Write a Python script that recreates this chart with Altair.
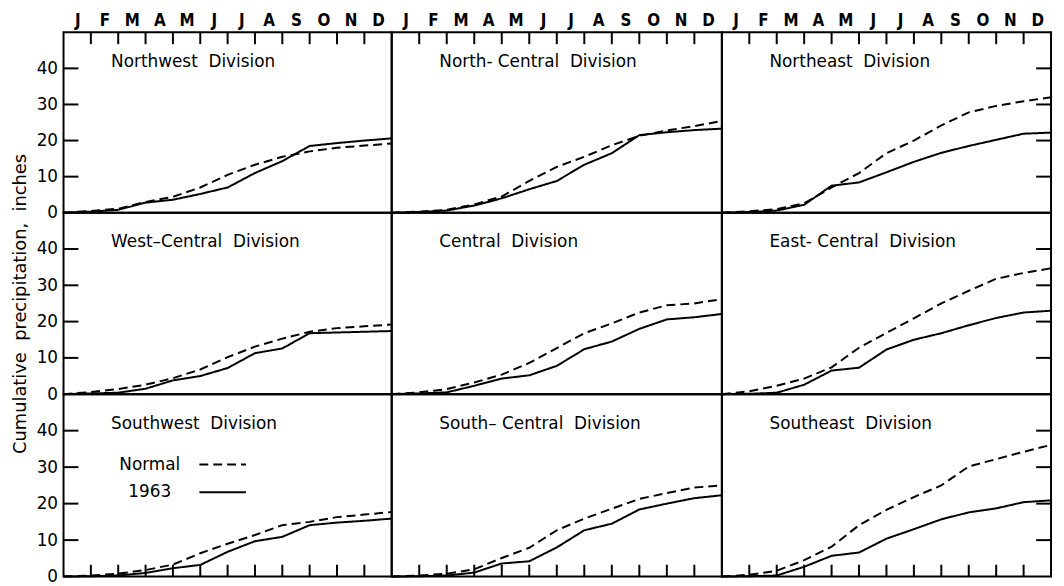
import json
import altair as alt
import pandas as pd

# ---------------- data ----------------
MONTH_LABELS = ["J", "F", "M", "A", "M", "J", "J", "A", "S", "O", "N", "D"]
MONTH_ENDS = list(range(13))          # 0 = 1 Jan ... 12 = 31 Dec
TICK_MONTHS = list(range(1, 12))
Y_LABELS = [0, 10, 20, 30, 40]
Y_TICKS = [10, 20, 30, 40]
SERIES = ["Normal", "1963"]
NB = "\u00a0"
Y_TITLE = f"Cumulative{NB}{NB}precipitation,{NB}{NB}inches"

DIVISIONS = [
    f"Northwest{NB}{NB}Division", f"North-{NB}Central{NB}{NB}Division", f"Northeast{NB}{NB}Division",
    f"West\u2013Central{NB}{NB}Division", f"Central{NB}{NB}Division", f"East-{NB}Central{NB}{NB}Division",
    f"Southwest{NB}{NB}Division", f"South\u2013{NB}Central{NB}{NB}Division", f"Southeast{NB}{NB}Division",
]

NW_NORMAL = [0, 0.5, 1.1, 3.0, 4.4, 7.0, 10.5, 13.3, 15.5, 17.0, 18.0, 18.6, 19.2]
NW_1963 = [0, 0.3, 0.8, 2.8, 3.6, 5.2, 7.0, 11.0, 14.3, 18.5, 19.3, 20.0, 20.6]
NC_NORMAL = [0, 0.3, 0.8, 2.3, 4.5, 8.8, 12.7, 15.5, 18.7, 21.3, 22.8, 24.0, 25.4]
NC_1963 = [0, 0.2, 0.6, 2.0, 4.0, 6.5, 8.8, 13.3, 16.5, 21.5, 22.3, 22.9, 23.3]
NE_NORMAL = [0, 0.4, 1.0, 2.6, 7.0, 11.0, 16.5, 20.0, 24.2, 27.8, 29.6, 30.9, 32.0]
NE_1963 = [0, 0.2, 0.6, 2.2, 7.5, 8.4, 11.2, 14.1, 16.6, 18.5, 20.2, 21.9, 22.2]
WC_NORMAL = [0, 0.6, 1.4, 2.6, 4.4, 6.8, 10.2, 13.1, 15.3, 17.2, 18.2, 18.7, 19.2]
WC_1963 = [0, 0.2, 0.4, 1.5, 3.8, 5.0, 7.2, 11.3, 12.6, 16.8, 17.0, 17.2, 17.4]
CE_NORMAL = [0, 0.5, 1.4, 3.2, 5.4, 8.6, 12.7, 16.8, 19.5, 22.5, 24.5, 25.0, 26.2]
CE_1963 = [0, 0.2, 0.5, 2.3, 4.3, 5.2, 7.8, 12.4, 14.5, 18.0, 20.6, 21.2, 22.1]
EC_NORMAL = [0, 0.8, 2.3, 4.3, 7.4, 12.8, 16.9, 20.9, 25.0, 28.5, 31.8, 33.4, 34.7]
EC_1963 = [0, 0.1, 0.4, 2.6, 6.5, 7.3, 12.3, 15.0, 16.8, 19.0, 21.0, 22.5, 23.0]
SW_NORMAL = [0, 0.3, 0.8, 1.8, 3.3, 6.4, 9.0, 11.4, 14.1, 15.0, 16.3, 17.0, 17.7]
SW_1963 = [0, 0.1, 0.3, 1.0, 2.3, 3.2, 6.8, 9.7, 10.9, 14.1, 14.8, 15.3, 15.9]
SC_NORMAL = [0, 0.3, 0.8, 2.0, 5.1, 7.9, 12.7, 15.9, 18.6, 21.3, 22.9, 24.4, 25.0]
SC_1963 = [0, 0.1, 0.3, 1.1, 3.6, 4.2, 8.0, 12.7, 14.5, 18.4, 20.0, 21.5, 22.3]
SE_NORMAL = [0, 0.5, 1.6, 4.5, 8.2, 14.1, 18.3, 21.8, 25.0, 30.2, 32.2, 34.2, 36.1]
SE_1963 = [0, 0.1, 0.3, 2.7, 5.7, 6.6, 10.4, 13.0, 15.7, 17.6, 18.7, 20.4, 20.9]

SERIES_VALUES = [
    (NW_NORMAL, NW_1963), (NC_NORMAL, NC_1963), (NE_NORMAL, NE_1963),
    (WC_NORMAL, WC_1963), (CE_NORMAL, CE_1963), (EC_NORMAL, EC_1963),
    (SW_NORMAL, SW_1963), (SC_NORMAL, SC_1963), (SE_NORMAL, SE_1963),
]

# ---------------- style ----------------
FONT = "DejaVu Sans"
BOLD_FONT = "DejaVu Sans Condensed"
WIDTHS = [331, 333, 332]
HEIGHTS = [182, 183, 184]
DASH = [9, 5]


def panel(idx):
    row, col = divmod(idx, 3)
    w, h = WIDTHS[col], HEIGHTS[row]
    normal, y63 = SERIES_VALUES[idx]
    df = pd.DataFrame({
        "m": MONTH_ENDS * 2,
        "v": normal + y63,
        "s": [SERIES[0]] * len(normal) + [SERIES[1]] * len(y63),
    })
    xscale = alt.Scale(domain=[0, 12], nice=False, zero=False)
    yscale = alt.Scale(domain=[0, 50], nice=False, zero=False)
    if row == 0:
        xaxis = alt.Axis(orient="top", values=[i + 0.5 for i in range(12)],
                         labelExpr=json.dumps(MONTH_LABELS) + "[floor(datum.value)]",
                         ticks=False, domain=False, grid=False, labelAngle=0,
                         labelFont=BOLD_FONT, labelFontSize=17, labelFontWeight="bold",
                         labelColor="black", labelPadding=3, title=None)
    else:
        xaxis = None
    if col == 0:
        kw = dict(values=Y_LABELS, ticks=False, domain=False, grid=False,
                  labelFont=FONT, labelFontSize=17, labelColor="black",
                  labelPadding=6)
        if row == 1:
            kw.update(title=Y_TITLE, titleFont=FONT, titleFontSize=18,
                      titleFontWeight="normal", titleColor="black", titlePadding=7)
        else:
            kw.update(title=None)
        yaxis = alt.Axis(**kw)
    else:
        yaxis = None
    x = alt.X("m:Q", scale=xscale, axis=xaxis)
    y = alt.Y("v:Q", scale=yscale, axis=yaxis)

    lines = alt.Chart(df).mark_line(color="black", strokeWidth=2).encode(
        x=x, y=y,
        strokeDash=alt.StrokeDash("s:N", scale=alt.Scale(domain=SERIES, range=[DASH, [1, 0]]),
                                  legend=None),
        detail="s:N",
    )
    layers = [lines]

    mt = pd.DataFrame({"m": TICK_MONTHS})
    if row == 0:
        layers.append(alt.Chart(mt).mark_rule(color="black", strokeWidth=2).encode(
            x=x, y=alt.value(0), y2=alt.value(12)))
    if row == 2:
        layers.append(alt.Chart(mt).mark_rule(color="black", strokeWidth=2).encode(
            x=x, y=alt.value(h), y2=alt.value(h - 12)))
    yt = pd.DataFrame({"v": Y_TICKS})
    if col == 0:
        layers.append(alt.Chart(yt).mark_rule(color="black", strokeWidth=2).encode(
            y=y, x=alt.value(0), x2=alt.value(15)))
    if col == 2:
        layers.append(alt.Chart(yt).mark_rule(color="black", strokeWidth=2).encode(
            y=y, x=alt.value(w - 15), x2=alt.value(w)))

    title = alt.Chart(pd.DataFrame({"t": [DIVISIONS[idx]]})).mark_text(
        align="left", baseline="middle", font=FONT, fontSize=17, color="black"
    ).encode(x=alt.value(48), y=alt.value(30), text="t:N")
    layers.append(title)

    if idx == 6:
        for k, name in enumerate(SERIES):
            ly = 71 + 28 * k
            layers.append(alt.Chart(pd.DataFrame({"t": [name]})).mark_text(
                align="center", baseline="middle", font=FONT, fontSize=17, color="black"
            ).encode(x=alt.value(87), y=alt.value(ly), text="t:N"))
            layers.append(alt.Chart(pd.DataFrame({"t": [name]})).mark_rule(
                color="black", strokeWidth=2, strokeDash=(DASH if k == 0 else [1, 0])
            ).encode(x=alt.value(137), x2=alt.value(184), y=alt.value(ly)))

    return alt.layer(*layers).properties(width=w, height=h)


chart = alt.concat(*[panel(i) for i in range(9)], columns=3, spacing=0, bounds="flush")
chart = chart.properties(
    padding={"left": 2, "top": 0, "right": 0, "bottom": 0},
    background="white",
).configure_view(stroke="black", strokeWidth=2)

chart.save("out.html", embed_options={"renderer": "svg", "actions": False})
